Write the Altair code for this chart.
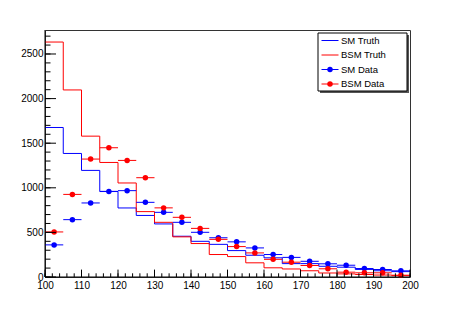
import altair as alt
import pandas as pd

# ---------------- data ----------------
bin_lows = [100, 105, 110, 115, 120, 125, 130, 135, 140, 145,
            150, 155, 160, 165, 170, 175, 180, 185, 190, 195]
sm_truth = [1676, 1385, 1195, 960, 774, 690, 595, 457, 400, 366,
            296, 244, 215, 150, 150, 120, 110, 85, 70, 60]
bsm_truth = [2634, 2097, 1579, 1284, 1054, 733, 613, 450, 375, 252,
             229, 159, 103, 90, 70, 45, 35, 28, 22, 15]
sm_data = [360, 643, 830, 958, 968, 837, 725, 613, 501, 440,
           394, 326, 252, 220, 176, 148, 132, 95, 84, 69]
bsm_data = [505, 926, 1322, 1449, 1307, 1113, 775, 669, 545, 422,
            341, 270, 198, 166, 129, 92, 54, 47, 47, 20]
x_major = [100, 110, 120, 130, 140, 150, 160, 170, 180, 190, 200]
x_minor = list(range(100, 201, 2))
y_major = [0, 500, 1000, 1500, 2000, 2500]
y_minor = list(range(0, 2701, 100))
legend_names = ["SM Truth", "BSM Truth", "SM Data", "BSM Data"]

# ---------------- style ----------------
BIN_W = 5
X_MIN, X_MAX = 100, 200
Y_MAX = 2769
W, H = 365, 247
BLUE = "#0000ff"
RED = "#ff0000"
FONT = "Liberation Sans"

xscale = alt.Scale(domain=[X_MIN, X_MAX], nice=False, zero=False)
yscale = alt.Scale(domain=[0, Y_MAX], nice=False, zero=False)
xaxis = alt.Axis(values=x_major, title=None, grid=False, domain=False,
                 ticks=False, tickSize=0, labelPadding=3, labelFontSize=10,
                 labelFont=FONT, labelColor="black", format="d",
                 labelOverlap=False, labelFlush=False)
yaxis = alt.Axis(values=y_major, title=None, grid=False, domain=False,
                 ticks=False, tickSize=0, labelPadding=2, labelFontSize=10,
                 labelFont=FONT, labelColor="black", format="d",
                 labelOverlap=False, labelFlush=False)


def X(field):
    return alt.X(field, type="quantitative", scale=xscale, axis=xaxis)


def Y(field):
    return alt.Y(field, type="quantitative", scale=yscale, axis=yaxis)


def step_df(vals):
    return pd.DataFrame({"x": bin_lows + [X_MAX], "y": vals + [vals[-1]]})


def data_df(vals):
    return pd.DataFrame({
        "c": [b + BIN_W / 2 for b in bin_lows],
        "lo": bin_lows,
        "hi": [b + BIN_W for b in bin_lows],
        "y": vals,
    })


layers = []

# truth histograms
for vals, col in [(sm_truth, BLUE), (bsm_truth, RED)]:
    layers.append(
        alt.Chart(step_df(vals)).mark_line(
            interpolate="step-after", color=col, strokeWidth=1, clip=True
        ).encode(x=X("x"), y=Y("y"))
    )

# data points with horizontal error bars
for vals, col in [(sm_data, BLUE), (bsm_data, RED)]:
    df = data_df(vals)
    layers.append(
        alt.Chart(df).mark_rule(color=col, strokeWidth=1).encode(
            x=X("lo"), x2="hi", y=Y("y"))
    )
    layers.append(
        alt.Chart(df).mark_circle(color=col, size=30, opacity=1).encode(
            x=X("c"), y=Y("y"))
    )

# inward ticks (ROOT style)
layers.append(alt.Chart(pd.DataFrame({"v": y_minor})).mark_rule(
    color="black", strokeWidth=1).encode(
    y=Y("v"), x=alt.value(0), x2=alt.value(5.5)))
layers.append(alt.Chart(pd.DataFrame({"v": y_major})).mark_rule(
    color="black", strokeWidth=1).encode(
    y=Y("v"), x=alt.value(0), x2=alt.value(11)))
layers.append(alt.Chart(pd.DataFrame({"v": x_minor})).mark_rule(
    color="black", strokeWidth=1).encode(
    x=X("v"), y=alt.value(H), y2=alt.value(H - 3.7)))
layers.append(alt.Chart(pd.DataFrame({"v": x_major})).mark_rule(
    color="black", strokeWidth=1).encode(
    x=X("v"), y=alt.value(H), y2=alt.value(H - 7.4)))

# axis lines (left/bottom black)
one = alt.Data(values=[{}])
layers.append(alt.Chart(one).mark_rule(color="black", strokeWidth=1).encode(
    x=alt.value(0), y=alt.value(0), y2=alt.value(H)))
layers.append(alt.Chart(one).mark_rule(color="black", strokeWidth=1).encode(
    x=alt.value(0), x2=alt.value(W), y=alt.value(H)))

# legend box with shadow
LX0, LX1, LY0, LY1 = 273, 362, 3, 61
layers.append(alt.Chart(one).mark_rect(color="#555555").encode(
    x=alt.value(LX0 + 2), x2=alt.value(LX1 + 2),
    y=alt.value(LY0 + 2), y2=alt.value(LY1 + 2)))
layers.append(alt.Chart(one).mark_rect(fill="white", stroke="black",
                                       strokeWidth=1).encode(
    x=alt.value(LX0), x2=alt.value(LX1),
    y=alt.value(LY0), y2=alt.value(LY1)))

leg_cols = [BLUE, RED, BLUE, RED]
leg_marker = [False, False, True, True]
for i, (name, col, mk) in enumerate(zip(legend_names, leg_cols, leg_marker)):
    yy = LY0 + 7.5 + i * 14.5
    layers.append(alt.Chart(one).mark_rule(color=col, strokeWidth=1).encode(
        x=alt.value(276.5), x2=alt.value(293.5), y=alt.value(yy)))
    if mk:
        layers.append(alt.Chart(one).mark_circle(
            color=col, size=30, opacity=1).encode(
            x=alt.value(285), y=alt.value(yy)))
    layers.append(alt.Chart(pd.DataFrame({"t": [name]})).mark_text(
        align="left", baseline="middle", font=FONT, fontSize=9.5,
        color="black").encode(
        x=alt.value(296), y=alt.value(yy), text="t:N"))

chart = alt.layer(*layers).properties(
    width=W, height=H,
    autosize=alt.AutoSizeParams(type="none"),
    padding={"left": 37, "top": 22, "right": 38, "bottom": 24},
).configure_view(stroke="#333333", strokeWidth=1)

chart.save("out.html", embed_options={"renderer": "svg", "actions": False})
